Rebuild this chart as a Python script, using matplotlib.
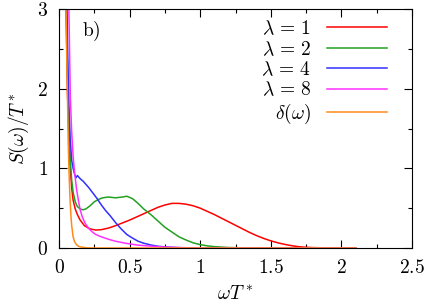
import numpy as np
import matplotlib
matplotlib.use("Agg")
import matplotlib.pyplot as plt
from matplotlib.ticker import MultipleLocator, FuncFormatter

# spectral function S(w)/T*
w_l1 = [0.045, 0.05, 0.06, 0.07, 0.08, 0.09, 0.10, 0.115, 0.13, 0.15, 0.18, 0.22, 0.26, 0.30,
        0.35, 0.40, 0.45, 0.50, 0.55, 0.60, 0.65, 0.70, 0.75, 0.80, 0.85, 0.90, 0.95, 1.00,
        1.05, 1.10, 1.15, 1.20, 1.25, 1.30, 1.35, 1.40, 1.45, 1.50, 1.55, 1.60, 1.65, 1.70,
        1.75, 1.80, 1.90, 2.0, 2.1]
s_l1 = [3.6, 3.0, 1.95, 1.4, 1.0, 0.75, 0.6, 0.49, 0.42, 0.35, 0.28, 0.24, 0.225, 0.23,
        0.25, 0.28, 0.315, 0.35, 0.39, 0.43, 0.47, 0.51, 0.54, 0.56, 0.56, 0.55, 0.53, 0.50,
        0.46, 0.42, 0.375, 0.33, 0.285, 0.24, 0.195, 0.155, 0.12, 0.09, 0.065, 0.045, 0.028, 0.016,
        0.009, 0.005, 0.001, 0.0, 0.0]

w_l2 = [0.045, 0.05, 0.06, 0.07, 0.08, 0.09, 0.10, 0.115, 0.13, 0.15, 0.17, 0.19, 0.22, 0.25,
        0.28, 0.31, 0.35, 0.40, 0.45, 0.48, 0.52, 0.56, 0.60, 0.65, 0.70, 0.75, 0.80, 0.85,
        0.90, 0.95, 1.0, 1.05, 1.1, 1.2, 1.3, 1.4, 2.1]
s_l2 = [3.8, 3.2, 2.2, 1.5, 1.1, 0.85, 0.70, 0.58, 0.52, 0.49, 0.48, 0.49, 0.53, 0.58,
        0.61, 0.63, 0.64, 0.63, 0.64, 0.65, 0.62, 0.56, 0.49, 0.42, 0.34, 0.26, 0.20, 0.14,
        0.10, 0.065, 0.042, 0.027, 0.017, 0.006, 0.002, 0.0, 0.0]

w_l4 = [0.05, 0.06, 0.07, 0.08, 0.09, 0.10, 0.11, 0.12, 0.13, 0.15, 0.17, 0.19, 0.21, 0.24,
        0.27, 0.30, 0.33, 0.36, 0.40, 0.44, 0.48, 0.52, 0.56, 0.60, 0.65, 0.70, 0.76, 0.85,
        0.95, 2.1]
s_l4 = [3.9, 2.6, 1.8, 1.35, 1.1, 1.0, 0.93, 0.88, 0.91, 0.87, 0.84, 0.80, 0.76, 0.69,
        0.62, 0.54, 0.47, 0.41, 0.32, 0.24, 0.17, 0.125, 0.085, 0.06, 0.038, 0.022, 0.012, 0.004,
        0.0, 0.0]

w_l8 = [0.06, 0.07, 0.08, 0.09, 0.10, 0.11, 0.125, 0.14, 0.15, 0.165, 0.185, 0.21, 0.24, 0.26,
        0.30, 0.35, 0.40, 0.47, 0.55, 0.60, 0.70, 0.80, 0.9, 1.0, 2.1]
s_l8 = [4.2, 3.0, 1.9, 1.45, 1.15, 0.95, 0.73, 0.57, 0.48, 0.39, 0.31, 0.245, 0.195, 0.17,
        0.14, 0.11, 0.085, 0.06, 0.038, 0.03, 0.016, 0.008, 0.003, 0.0, 0.0]

w_d = [0.045, 0.05, 0.055, 0.06, 0.065, 0.07, 0.075, 0.08, 0.085, 0.09, 0.10, 0.11, 0.125,
       0.14, 0.16, 0.2, 0.25, 2.1]
s_d = [4.0, 3.0, 2.4, 1.9, 1.35, 1.0, 0.75, 0.55, 0.39, 0.28, 0.14, 0.08, 0.04,
       0.02, 0.01, 0.002, 0.0, 0.0]

series = [(w_l1, s_l1, r'$\lambda\,=\,1$', '#ff0000'),
          (w_l2, s_l2, r'$\lambda\,=\,2$', '#22a022'),
          (w_l4, s_l4, r'$\lambda\,=\,4$', '#3030ff'),
          (w_l8, s_l8, r'$\lambda\,=\,8$', '#ff30ff'),
          (w_d, s_d, r'$\delta(\omega)$', '#ff8a1a')]

plt.rcParams['mathtext.fontset'] = 'cm'
plt.rcParams['font.family'] = 'serif'
plt.rcParams['font.serif'] = ['DejaVu Serif']
plt.rcParams['font.size'] = 14

fig = plt.figure(figsize=(4.26, 3.07), dpi=100)
ax = fig.add_axes([59 / 426, 59 / 307, 353 / 426, 239 / 307])

for w, s, lab, col in series:
    ax.plot(w, s, color=col, lw=1.1, label=lab)

ax.set_xlim(0, 2.5)
ax.set_ylim(0, 3)
ax.xaxis.set_major_locator(MultipleLocator(0.5))
ax.xaxis.set_minor_locator(MultipleLocator(0.25))
ax.yaxis.set_major_locator(MultipleLocator(1))
ax.yaxis.set_minor_locator(MultipleLocator(0.5))
fmt = FuncFormatter(lambda v, p: r'$%g$' % v)
ax.xaxis.set_major_formatter(fmt)
ax.yaxis.set_major_formatter(fmt)
ax.tick_params(which='both', direction='in', top=True, right=True, width=0.8)
ax.tick_params(which='major', length=5.5)
ax.tick_params(which='minor', length=3)
ax.tick_params(axis='x', pad=8)
ax.tick_params(axis='y', pad=8)
for sp in ax.spines.values():
    sp.set_linewidth(0.8)

ax.set_xlabel(r'$\omega T^*$', labelpad=6)
ax.set_ylabel(r'$S(\omega)/T^*$', labelpad=4)
ax.text(0.065, 0.905, r'$\mathrm{b)}$', transform=ax.transAxes, va='center', ha='left')

ax.legend(loc='upper right', bbox_to_anchor=(0.93, 0.955), frameon=False, markerfirst=False,
          handlelength=3.1, handletextpad=0.8, labelspacing=0.1, borderpad=0, borderaxespad=0)

fig.savefig('out.png', dpi=100)
